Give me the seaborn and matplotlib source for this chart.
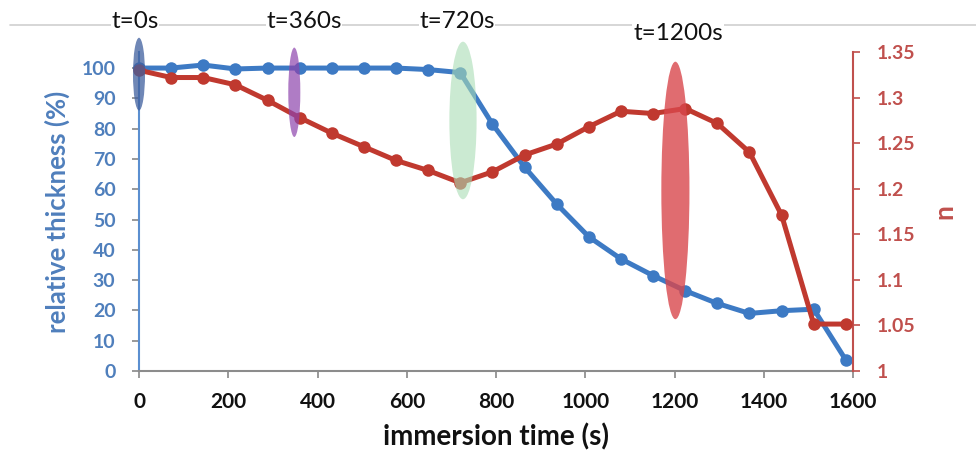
import matplotlib
matplotlib.use("Agg")
import matplotlib.pyplot as plt
import seaborn as sns
import pandas as pd
from matplotlib.patches import Ellipse
from matplotlib.lines import Line2D

# ---- data ----
time_s = [0, 72, 144, 216, 288, 360, 432, 504, 576, 648, 720, 792, 864, 936,
          1008, 1080, 1152, 1224, 1296, 1368, 1440, 1512, 1584]
rel_thickness = [100, 100, 101, 99.7, 100, 100, 100, 100, 100, 99.5, 98.5, 81.5, 67.3, 55.1,
                 44.3, 37.0, 31.5, 26.5, 22.3, 19.0, 19.9, 20.4, 3.6]
n_index = [1.330, 1.322, 1.322, 1.314, 1.297, 1.278, 1.261, 1.246, 1.231, 1.220, 1.2065, 1.2185,
           1.237, 1.249, 1.268, 1.285, 1.2825, 1.288, 1.2716, 1.240, 1.171, 1.0515, 1.0515]

x_ticks = [0, 200, 400, 600, 800, 1000, 1200, 1400, 1600]
left_ticks = [0, 10, 20, 30, 40, 50, 60, 70, 80, 90, 100]
right_ticks = [1.0, 1.05, 1.1, 1.15, 1.2, 1.25, 1.3, 1.35]
right_labels = ["1", "1.05", "1.1", "1.15", "1.2", "1.25", "1.3", "1.35"]

marker_labels = ["t=0s", "t=360s", "t=720s", "t=1200s"]
marker_centers_x = [0, 348, 726, 1202]
marker_centers_y = [98, 92, 82.7, 59.6]
marker_widths = [27, 27, 61, 63]
marker_heights = [24, 29.5, 52, 85]
marker_colors = ["#3f5f9e", "#8e44ad", "#a9dcb4", "#d9474c"]
marker_alphas = [0.75, 0.7, 0.6, 0.8]
label_x = [135, 304, 457, 678]
label_y = [22, 22, 22, 33]

BLUE = "#3d7ac4"
RED = "#c0392f"
BLUE_TXT = "#4f7fbc"
RED_TXT = "#c0504d"

sns.set_style("white")
plt.rcParams['font.family'] = ['Lato', 'DejaVu Sans']

df = pd.DataFrame({"time": time_s, "thick": rel_thickness, "n": n_index})

fig = plt.figure(figsize=(9.76, 4.53), dpi=100)
ax = fig.add_axes([139/976, 1-371/453, (853-139)/976, (371-52)/453])
ax2 = ax.twinx()

sns.lineplot(data=df, x="time", y="thick", ax=ax, color=BLUE, lw=3.6,
             marker="o", markersize=9, markeredgewidth=0, clip_on=False, zorder=3)
sns.lineplot(data=df, x="time", y="n", ax=ax2, color=RED, lw=3.6,
             marker="o", markersize=9, markeredgewidth=0, clip_on=False, zorder=3)

ax.set_xlim(0, 1600)
ax.set_ylim(0, 105.3)
ax2.set_ylim(1.0, 1.35)

ax.set_xticks(x_ticks)
ax.set_xticklabels([str(v) for v in x_ticks], fontsize=15, fontweight="bold", color="#111111")
ax.set_yticks(left_ticks)
ax.set_yticklabels([str(v) for v in left_ticks], fontsize=14, fontweight="bold", color=BLUE_TXT)
ax2.set_yticks(right_ticks)
ax2.set_yticklabels(right_labels, fontsize=14, fontweight="bold", color=RED_TXT)

ax.tick_params(axis="x", direction="out", length=5, width=1.2, color="#888888", pad=10, bottom=True)
ax.tick_params(axis="y", direction="out", length=5, width=1.2, color="#888888", pad=12, left=True)
ax2.tick_params(axis="y", direction="out", length=5, width=1.2, color=RED_TXT, pad=12, right=True)

for a in (ax, ax2):
    a.spines["top"].set_visible(False)
ax.spines["left"].set_color("#5b8fd0")
ax.spines["left"].set_linewidth(1.5)
ax.spines["bottom"].set_color("#8c8c8c")
ax.spines["bottom"].set_linewidth(1.5)
ax.spines["right"].set_visible(False)
ax2.spines["left"].set_visible(False)
ax2.spines["bottom"].set_visible(False)
ax2.spines["right"].set_color(RED_TXT)
ax2.spines["right"].set_linewidth(1.5)

ax.set_xlabel("immersion time (s)", fontsize=20, fontweight="bold", color="#111111", labelpad=8)
ax.set_ylabel("relative thickness (%)", fontsize=18.5, fontweight="bold", color=BLUE_TXT, labelpad=8)
ax2.set_ylabel("n", fontsize=19, fontweight="bold", color=RED_TXT, labelpad=12)

# highlight ellipses drawn above both lines
for cx, cy, w, h, c, al in zip(marker_centers_x, marker_centers_y, marker_widths,
                               marker_heights, marker_colors, marker_alphas):
    e = Ellipse((cx, cy), w, h, transform=ax.transData, facecolor=c, edgecolor="none",
                alpha=al, zorder=10, clip_on=False)
    ax2.add_patch(e)

# top border line
fig.add_artist(Line2D([10/976, 1.0], [1-25/453, 1-25/453], color="#d0d0d0", lw=1.2, zorder=0))

for lab, lx, ly in zip(marker_labels, label_x, label_y):
    fig.text(lx/976, 1-ly/453, lab, fontsize=17.5, color="#111111", ha="center", va="center",
             bbox=dict(facecolor="white", edgecolor="none", pad=0.5), zorder=5)

fig.savefig("out.png", dpi=100, facecolor="white")
